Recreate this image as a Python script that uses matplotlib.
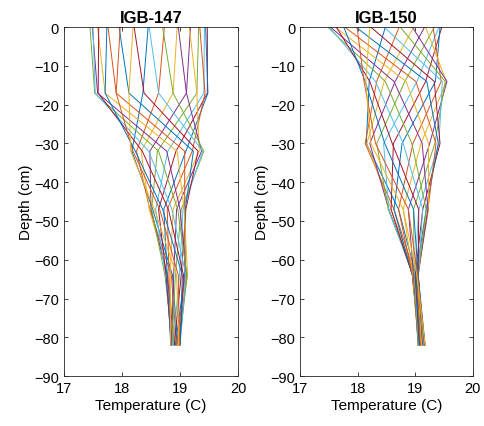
import matplotlib
matplotlib.use("Agg")
import matplotlib.pyplot as plt

# soil temperature profiles, one line per hour (24 lines per site)
depth_147 = [0, -17, -32, -47, -64, -82]
temp_147 = [
    [18.45, 18.73, 18.95, 19.18, 19.32, 19.42, 19.47, 19.44, 19.34, 19.16, 18.97, 18.70,
     18.47, 18.21, 17.95, 17.76, 17.58, 17.49, 17.45, 17.50, 17.60, 17.74, 17.97, 18.19],
    [18.36, 18.63, 18.88, 19.11, 19.29, 19.41, 19.47, 19.48, 19.43, 19.29, 19.11, 18.88,
     18.63, 18.38, 18.12, 17.90, 17.71, 17.58, 17.53, 17.54, 17.59, 17.71, 17.90, 18.12],
    [18.17, 18.25, 18.33, 18.48, 18.61, 18.79, 18.93, 19.10, 19.21, 19.33, 19.37, 19.41,
     19.39, 19.31, 19.23, 19.08, 18.95, 18.77, 18.63, 18.46, 18.35, 18.23, 18.19, 18.15],
    [18.53, 18.48, 18.47, 18.50, 18.51, 18.58, 18.63, 18.72, 18.78, 18.88, 18.94, 19.02,
     19.05, 19.10, 19.09, 19.08, 19.07, 19.00, 18.96, 18.86, 18.80, 18.70, 18.65, 18.56],
    [18.87, 18.85, 18.79, 18.78, 18.74, 18.75, 18.76, 18.78, 18.81, 18.83, 18.89, 18.92,
     18.99, 19.02, 19.08, 19.09, 19.13, 19.11, 19.12, 19.10, 19.06, 19.04, 18.97, 18.94],
    [18.96, 18.94, 18.92, 18.90, 18.88, 18.86, 18.85, 18.84, 18.84, 18.84, 18.85, 18.86,
     18.88, 18.90, 18.92, 18.94, 18.96, 18.98, 18.99, 19.00, 19.00, 19.00, 18.99, 18.98],
]

depth_150 = [0, -14, -30, -47, -64, -82]
temp_150 = [
    [18.48, 18.72, 18.97, 19.16, 19.33, 19.41, 19.46, 19.43, 19.31, 19.18, 18.95, 18.74,
     18.46, 18.23, 17.97, 17.78, 17.61, 17.53, 17.48, 17.51, 17.63, 17.76, 17.99, 18.21],
    [18.20, 18.33, 18.46, 18.65, 18.82, 19.03, 19.18, 19.35, 19.45, 19.54, 19.55, 19.52,
     19.47, 19.33, 19.20, 19.01, 18.84, 18.63, 18.48, 18.31, 18.21, 18.13, 18.11, 18.14],
    [18.15, 18.13, 18.16, 18.21, 18.33, 18.45, 18.62, 18.77, 18.96, 19.10, 19.25, 19.34,
     19.41, 19.43, 19.40, 19.36, 19.23, 19.12, 18.94, 18.79, 18.60, 18.47, 18.31, 18.23],
    [18.71, 18.63, 18.58, 18.54, 18.53, 18.54, 18.58, 18.63, 18.71, 18.79, 18.88, 18.97,
     19.06, 19.13, 19.19, 19.22, 19.23, 19.22, 19.19, 19.13, 19.06, 18.97, 18.88, 18.79],
    [19.01, 19.00, 18.99, 18.98, 18.97, 18.96, 18.95, 18.95, 18.95, 18.96, 18.97, 18.98,
     18.99, 19.00, 19.01, 19.03, 19.04, 19.05, 19.05, 19.05, 19.05, 19.05, 19.04, 19.03],
    [19.16, 19.15, 19.14, 19.13, 19.11, 19.09, 19.08, 19.07, 19.06, 19.05, 19.05, 19.05,
     19.06, 19.07, 19.08, 19.09, 19.11, 19.13, 19.14, 19.15, 19.16, 19.17, 19.17, 19.17],
]

sites = ["IGB-147", "IGB-150"]

# matlab default colour order
colors = ["#0072BD", "#D95319", "#EDB120", "#7E2F8E", "#77AC30", "#4DBEEE", "#A2142F"]

plt.rcParams['font.family'] = ['Liberation Sans', 'DejaVu Sans']
axcol = '#262626'

fig = plt.figure(figsize=(4.84, 4.27), dpi=100)
ax1 = fig.add_axes([0.132, 0.117, 0.360, 0.817])
ax2 = fig.add_axes([0.620, 0.117, 0.357, 0.817])

for ax, name, depth, temp in [(ax1, sites[0], depth_147, temp_147),
                              (ax2, sites[1], depth_150, temp_150)]:
    nh = len(temp[0])
    for h in range(nh):
        ax.plot([row[h] for row in temp], depth, color=colors[h % len(colors)], lw=0.7)
    ax.set_xlim(17, 20)
    ax.set_ylim(-90, 0)
    ax.set_xticks([17, 18, 19, 20])
    ax.set_yticks(range(-90, 1, 10))
    ax.tick_params(direction='in', top=True, right=True, labelsize=10.5,
                   colors=axcol, length=3, width=0.6)
    for sp in ax.spines.values():
        sp.set_color(axcol)
        sp.set_linewidth(0.6)
    for lab in ax.get_xticklabels() + ax.get_yticklabels():
        lab.set_color('black')
    ax.set_title(name, fontsize=12, fontweight='bold', pad=4)
    ax.set_xlabel("Temperature (C)", fontsize=11, labelpad=2)
    ax.set_ylabel("Depth (cm)", fontsize=11, labelpad=1)

fig.savefig("out.png", dpi=100)
